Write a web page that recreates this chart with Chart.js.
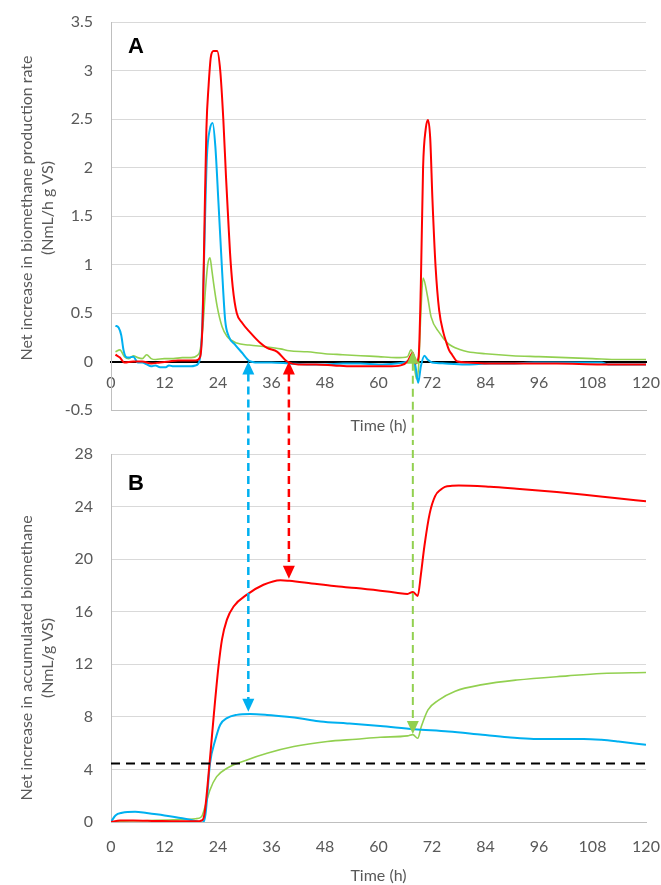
<!DOCTYPE html>
<html><head><meta charset="utf-8">
<script src="https://cdn.jsdelivr.net/npm/chart.js@4"></script>
<style>
html,body{margin:0;padding:0;background:#fff;}
#wrap{position:relative;width:661px;height:885px;overflow:hidden;}
#cA{position:absolute;left:0;top:0;}
#cB{position:absolute;left:0;top:440px;}
</style></head><body>
<div id="wrap"><canvas id="cA" width="661" height="440"></canvas><canvas id="cB" width="661" height="445"></canvas></div>
<script>
// ---------- Panel A : net increase in biomethane production rate ----------
const tA_red = [1,2,3,5,7,9,11,13,15,17,19,20,20.6,21,21.4,21.9,22.4,23,23.8,24.5,25.2,25.8,26.3,26.7,27.3,28.2,29.4,31.2,33.5,35,37.3,39.5,42,46,50,54,58,62,65,66.5,67.7,68.3,69,69.5,70,70.6,71.1,71.6,72.1,72.8,73.6,74.6,75.2,75.8,76.5,77.7,80,85,90,100,110,115,120];
const vA_red = [0.07,0.04,-0.01,0,0,-0.02,-0.01,0,0.01,0.01,0.01,0.05,0.5,1.5,2.4,2.85,3.14,3.2,3.2,3.0,2.49,1.9,1.46,1.12,0.77,0.5,0.40,0.30,0.19,0.14,0.10,0.0,-0.03,-0.03,-0.04,-0.05,-0.05,-0.05,-0.04,0.0,0.09,-0.02,0.05,0.8,2.0,2.4,2.49,2.3,1.67,0.98,0.53,0.29,0.2,0.12,0.07,0.0,-0.01,-0.02,-0.02,-0.02,-0.03,-0.03,-0.03];

const tA_blue = [1,1.7,2.3,2.8,3.3,4,5,6,7,8,9,10,11,12.3,13,14,15,16,17,18,19,19.8,20.5,21,21.5,22.2,22.8,23.4,24.1,24.9,25.6,26.4,27.9,29.4,30.9,33,36,40,44,48,52,56,60,64,66.5,67.6,68.3,68.9,69.5,70.3,71,72,75,80,85,90,95,100,105,110,111.5,115,120];
const vA_blue = [0.37,0.35,0.27,0.12,0.05,0.04,0.05,-0.01,-0.01,-0.03,-0.05,-0.04,-0.06,-0.06,-0.04,-0.05,-0.05,-0.05,-0.05,-0.05,-0.04,0.0,0.4,1.3,2.1,2.4,2.46,2.22,1.64,0.95,0.43,0.26,0.17,0.09,0.01,-0.01,-0.01,-0.02,-0.03,-0.03,-0.02,-0.02,-0.03,-0.02,0.0,0.06,-0.05,-0.22,-0.05,0.06,0.02,-0.01,-0.02,-0.03,-0.02,-0.02,-0.01,-0.01,-0.01,-0.01,-0.03,-0.03,-0.03];

const tA_green = [1,2,3,4,5,6,7,8,9,10,12,14,16,18,19.3,20,20.6,21.2,21.7,22.2,22.6,23,23.8,24.9,26,28.2,31,35,38,40,44,48,52,56,60,64,66.5,67.3,67.8,68.5,69,69.5,70,71,71.8,73.6,75.5,78.4,80,84,90,96,102,108,114,120];
const vA_green = [0.10,0.12,0.05,0.03,0.06,0.04,0.03,0.07,0.03,0.02,0.03,0.03,0.04,0.04,0.06,0.12,0.35,0.75,1.0,1.07,0.95,0.81,0.57,0.36,0.26,0.19,0.17,0.15,0.13,0.11,0.10,0.08,0.07,0.06,0.05,0.04,0.05,0.12,0.05,-0.18,-0.05,0.5,0.86,0.67,0.46,0.30,0.19,0.12,0.10,0.08,0.06,0.05,0.04,0.03,0.02,0.02];

// ---------- Panel B : net increase in accumulated biomethane ----------
const tB_red = [0,2,5,10,15,19,20.5,21,22.1,23.1,24.1,24.9,26,27.5,30.5,34.2,38,40,45,50,55,60.4,64,66.5,67.7,68.8,69.5,70.3,71.5,72.7,74,74.9,76.5,78,85,91,100,106.2,113,120];
const vB_red = [0,0.12,0.12,0.08,0.05,0.05,0.15,0.7,4.45,8.3,11.8,13.9,15.4,16.4,17.3,18.05,18.4,18.35,18.15,17.95,17.8,17.6,17.45,17.35,17.5,17.2,18.8,21.0,23.5,24.8,25.3,25.5,25.58,25.6,25.5,25.35,25.1,24.9,24.65,24.4];

const tB_blue = [0,1,2.5,5.4,8,12,16,19.6,20.4,21.2,22.2,23.4,24.5,26,28.2,31.2,35,39.5,43,47,53,60.4,68,75.7,83.3,89,94.8,106,110,113.8,120];
const vB_blue = [0,0.5,0.7,0.78,0.68,0.5,0.28,0.02,-0.05,0.6,4.45,6.25,7.4,7.9,8.15,8.22,8.15,8.0,7.85,7.65,7.5,7.3,7.06,6.88,6.63,6.45,6.32,6.32,6.25,6.12,5.87];

const tB_green = [0,2,5,10,15,19,20.3,21.1,22.2,23.7,26,30.5,35,41,48.5,55,60.4,66.5,67.7,68.8,69.6,71.1,73.4,77.2,83.3,91,102.4,110,120];
const vB_green = [0,0.05,0.08,0.12,0.18,0.25,0.4,1.17,2.44,3.45,4.09,4.72,5.23,5.74,6.12,6.3,6.45,6.55,6.65,6.37,7.26,8.53,9.25,9.95,10.45,10.8,11.12,11.3,11.37];

const thresholdB = 4.45;

// arrows linking the two panels: time, tip in A, tip in B
const arrowTimes = [30.8, 39.9, 67.7];
const arrowTipA  = [0, 0, 0.11];
const arrowTipB  = [8.38, 18.5, 6.7];

// axis ticks
const xTicks = {min: 0, max: 120, step: 12};
const yTicksA = {min: -0.5, max: 3.5, step: 0.5};
const yTicksB = {min: 0, max: 28, step: 4};

// ---------- styles ----------
const RED = '#FF0000', BLUE = '#00B0F0', GREEN = '#92D050';
const arrowColors = [BLUE, RED, GREEN];
const TXT = '#595959', GRID = '#D9D9D9', AXIS = '#BFBFBF';
const FONT = 'Lato';
const tickFont = {family: FONT, size: 16};

function pts(t, v) { return t.map((x, i) => ({x: x, y: v[i]})); }

function ds(t, v, color, w) {
  return {data: pts(t, v), borderColor: color, backgroundColor: color, borderWidth: w,
          pointRadius: 0, fill: false, cubicInterpolationMode: 'monotone'};
}

function fitY(s) { s.width = 111; s.paddingTop = 0; s.paddingBottom = 0; }
function fitX(h) { return function (s) { if (h) s.height = h; s.paddingLeft = 0; s.paddingRight = 0; }; }

const yTitle = {
  id: 'yTitle',
  afterDraw(chart, args, o) {
    const ctx = chart.ctx;
    ctx.save();
    ctx.fillStyle = TXT;
    ctx.font = o.size + 'px ' + FONT;
    ctx.textAlign = 'center';
    ctx.textBaseline = 'middle';
    o.lines.forEach((line, i) => {
      ctx.save();
      ctx.translate(o.x[i], o.y);
      ctx.rotate(-Math.PI / 2);
      ctx.fillText(line, 0, 0);
      ctx.restore();
    });
    // panel letter
    ctx.fillStyle = '#000';
    ctx.font = 'bold 22px "Liberation Sans", Arial, sans-serif';
    ctx.textAlign = 'left';
    ctx.textBaseline = 'alphabetic';
    ctx.fillText(o.letter, chart.chartArea.left + 17, chart.chartArea.top + o.letterDy);
    ctx.restore();
  }
};

function drawHead(ctx, x, tip, dir, color) {
  ctx.fillStyle = color;
  ctx.beginPath();
  ctx.moveTo(x, tip);
  ctx.lineTo(x - 6, tip + dir * 13);
  ctx.lineTo(x + 6, tip + dir * 13);
  ctx.closePath();
  ctx.fill();
}

const arrowsA = {
  id: 'arrowsA',
  afterDatasetsDraw(chart) {
    const ctx = chart.ctx, xs = chart.scales.x, ys = chart.scales.y;
    arrowTimes.forEach((t, i) => {
      const px = xs.getPixelForValue(t), tip = ys.getPixelForValue(arrowTipA[i]);
      const c = arrowColors[i];
      ctx.save();
      ctx.strokeStyle = c;
      ctx.lineWidth = i === 2 ? 2 : 2.5;
      ctx.setLineDash([8, 5]);
      ctx.beginPath();
      ctx.moveTo(px, tip + 12);
      ctx.lineTo(px, chart.height);
      ctx.stroke();
      ctx.setLineDash([]);
      drawHead(ctx, px, tip, 1, c);
      ctx.restore();
    });
  }
};

const arrowsB = {
  id: 'arrowsB',
  afterDatasetsDraw(chart) {
    const ctx = chart.ctx, xs = chart.scales.x, ys = chart.scales.y;
    arrowTimes.forEach((t, i) => {
      const px = xs.getPixelForValue(t), tip = ys.getPixelForValue(arrowTipB[i]);
      const c = arrowColors[i];
      ctx.save();
      ctx.strokeStyle = c;
      ctx.lineWidth = i === 2 ? 2 : 2.5;
      ctx.setLineDash([8, 5]);
      ctx.lineDashOffset = 3;
      ctx.beginPath();
      ctx.moveTo(px, 0);
      ctx.lineTo(px, tip - 12);
      ctx.stroke();
      ctx.setLineDash([]);
      drawHead(ctx, px, tip, -1, c);
      ctx.restore();
    });
  }
};

const fmt = v => String(v);

new Chart(document.getElementById('cA'), {
  type: 'line',
  data: {datasets: [
    ds(tA_red, vA_red, RED, 2),
    ds(tA_blue, vA_blue, BLUE, 2),
    ds(tA_green, vA_green, GREEN, 1.6)
  ]},
  options: {
    responsive: false, animation: false, events: [],
    layout: {padding: {left: 0, right: 15, top: 22, bottom: 0}},
    plugins: {
      legend: {display: false}, tooltip: {enabled: false},
      yTitle: {lines: ['Net increase in biomethane production rate', '(NmL/h g VS)'], x: [27, 48], y: 208, size: 16, letter: 'A', letterDy: 31}
    },
    scales: {
      x: {type: 'linear', position: 'bottom', min: xTicks.min, max: xTicks.max,
          ticks: {display: false}, grid: {display: false, drawTicks: false},
          border: {color: AXIS, width: 1},
          title: {display: true, text: 'Time (h)', color: TXT, font: {family: FONT, size: 16}, padding: {top: 0, bottom: 5}},
          afterFit: fitX(30)},
      x0: {type: 'linear', axis: 'x', position: {y: 0}, min: xTicks.min, max: xTicks.max,
          ticks: {stepSize: xTicks.step, color: TXT, font: tickFont, padding: 12, maxRotation: 0, callback: fmt},
          grid: {display: false, drawTicks: false},
          border: {color: '#000', width: 2},
          afterFit: fitX(0)},
      y: {type: 'linear', min: yTicksA.min, max: yTicksA.max,
          ticks: {stepSize: yTicksA.step, color: TXT, font: tickFont, padding: 18, callback: fmt},
          grid: {color: GRID, lineWidth: 1, drawTicks: false},
          border: {color: AXIS, width: 1},
          afterFit: fitY}
    }
  },
  plugins: [yTitle, arrowsA]
});

new Chart(document.getElementById('cB'), {
  type: 'line',
  data: {datasets: [
    {data: [{x: xTicks.min, y: thresholdB}, {x: xTicks.max, y: thresholdB}], borderColor: '#000', borderWidth: 2,
     borderDash: [9, 6], pointRadius: 0, fill: false},
    ds(tB_red, vB_red, RED, 2),
    ds(tB_blue, vB_blue, BLUE, 2),
    ds(tB_green, vB_green, GREEN, 1.6)
  ]},
  options: {
    responsive: false, animation: false, events: [],
    layout: {padding: {left: 0, right: 15, top: 14, bottom: 0}},
    plugins: {
      legend: {display: false}, tooltip: {enabled: false},
      yTitle: {lines: ['Net increase in accumulated biomethane', '(NmL/g VS)'], x: [27, 48], y: 218, size: 16, letter: 'B', letterDy: 36}
    },
    scales: {
      x: {type: 'linear', position: 'bottom', min: xTicks.min, max: xTicks.max,
          ticks: {stepSize: xTicks.step, color: TXT, font: tickFont, padding: 15, maxRotation: 0, callback: fmt},
          grid: {display: false, drawTicks: false},
          border: {color: AXIS, width: 1},
          title: {display: true, text: 'Time (h)', color: TXT, font: {family: FONT, size: 16}, padding: {top: 0, bottom: 0}},
          afterFit: fitX(63)},
      y: {type: 'linear', min: yTicksB.min, max: yTicksB.max,
          ticks: {stepSize: yTicksB.step, color: TXT, font: tickFont, padding: 18, callback: fmt},
          grid: {color: GRID, lineWidth: 1, drawTicks: false},
          border: {color: AXIS, width: 1},
          afterFit: fitY}
    }
  },
  plugins: [yTitle, arrowsB]
});
</script>
</body></html>
